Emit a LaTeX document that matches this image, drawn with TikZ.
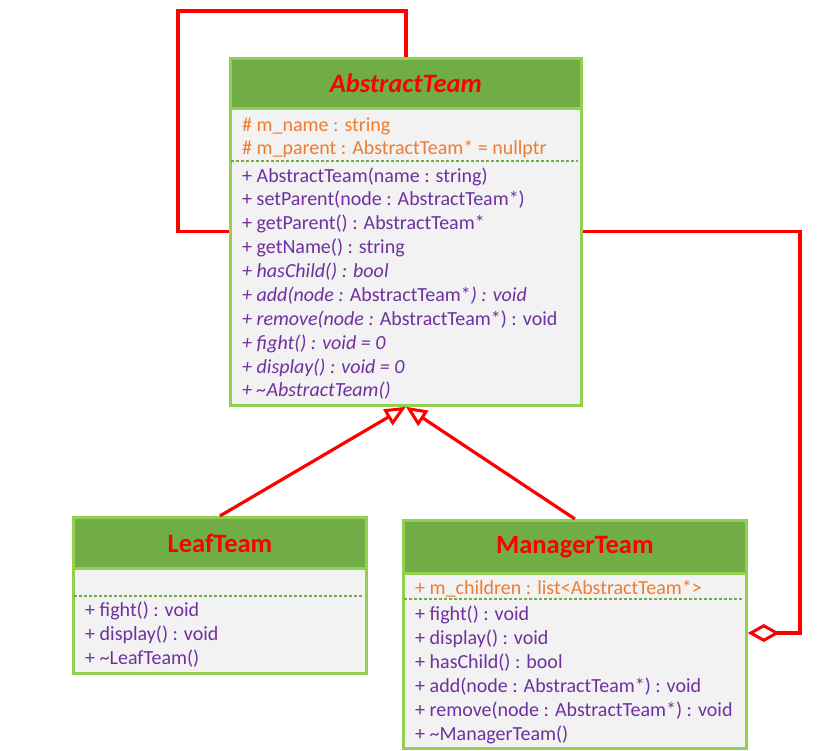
\documentclass[tikz,border=0pt]{standalone}
\usepackage{fontspec}
\setmainfont{Carlito}
\usetikzlibrary{arrows.meta}
\definecolor{lgreen}{HTML}{92D050}
\definecolor{hgreen}{HTML}{70AD47}
\definecolor{bodygray}{HTML}{F2F2F2}
\definecolor{attrorange}{HTML}{ED7D31}
\definecolor{methpurple}{HTML}{7030A0}
\definecolor{relred}{HTML}{FF0000}
\tikzset{
  classbox/.style={draw=lgreen, line width=2.8pt, fill=bodygray, anchor=north west, inner sep=0pt},
  classhead/.style={draw=lgreen, line width=2.8pt, fill=hgreen, anchor=north west, inner sep=0pt,
     text=relred, font=\fontsize{26.5}{30}\selectfont\bfseries},
  member/.style={anchor=west, inner sep=0pt, text height=14pt, text depth=4pt, yshift=-2.5pt,
     font=\fontsize{20}{24}\selectfont},
  attr/.style={member, text=attrorange},
  meth/.style={member, text=methpurple},
  divider/.style={draw=hgreen, line width=1.5pt, dash pattern=on 3pt off 2pt},
  rel/.style={draw=relred, line width=3.2pt},
}
\begin{document}
\begin{tikzpicture}[x=1pt,y=-1pt]
\useasboundingbox[fill=white] (0,0) rectangle (828,751);

% AbstractTeam
\node[classbox, minimum width=351pt, minimum height=347pt] (abs) at (229,57) {};
\node[classhead, minimum width=351pt, minimum height=50pt] (absh) at (229,57) {\textit{AbstractTeam}};
\node[attr] (a1) at (242,124) {\# m\_name : string};
\node[attr] (a2) at (242,147) {\# m\_parent : AbstractTeam* = nullptr};
\draw[divider] (231,161) -- (578,161);
\node[meth] (m1) at (242,175) {+ AbstractTeam(name : string)};
\node[meth] (m2) at (242,198) {+ setParent(node : AbstractTeam*)};
\node[meth] (m3) at (242,222) {+ getParent() : AbstractTeam*};
\node[meth] (m4) at (242,246) {+ getName() : string};
\node[meth] (m5) at (242,270) {\itshape + hasChild() : bool};
\node[meth] (m6) at (242,294) {\textit{+ add(node :} AbstractTeam*\textit{) : void}};
\node[meth] (m7) at (242,318) {\textit{+ remove(node :} AbstractTeam*) : void};
\node[meth] (m8) at (242,342) {\itshape + fight() : void = 0};
\node[meth] (m9) at (242,366) {\itshape + display() : void = 0};
\node[meth] (m10) at (242,389) {\itshape + \textasciitilde AbstractTeam()};

% LeafTeam
\node[classbox, minimum width=293pt, minimum height=156pt] (leaf) at (72,516) {};
\node[classhead, minimum width=293pt, minimum height=51pt] (leafh) at (72,516) {LeafTeam};
\draw[divider] (74,596) -- (363,596);
\node[meth] (l1) at (85,609) {+ fight() : void};
\node[meth] (l2) at (85,633) {+ display() : void};
\node[meth] (l3) at (85,657) {+ \textasciitilde LeafTeam()};

% ManagerTeam
\node[classbox, minimum width=343pt, minimum height=228pt] (mgr) at (402,519) {};
\node[classhead, minimum width=343pt, minimum height=53pt] (mgrh) at (402,519) {ManagerTeam};
\node[attr] (c1) at (415,587) {+ m\_children : list<AbstractTeam*>};
\draw[divider] (404,599) -- (743,599);
\node[meth] (n1) at (415,613) {+ fight() : void};
\node[meth] (n2) at (415,637) {+ display() : void};
\node[meth] (n3) at (415,661) {+ hasChild() : bool};
\node[meth] (n4) at (415,685) {+ add(node : AbstractTeam*) : void};
\node[meth] (n5) at (415,709) {+ remove(node : AbstractTeam*) : void};
\node[meth] (n6) at (415,733) {+ \textasciitilde ManagerTeam()};

% self association loop
\draw[rel, line join=miter] (absh.north) -- ++(0,-46) -| ([xshift=-51pt]abs.west) -- (abs.west);

% aggregation
\draw[rel, line join=miter, {Diamond[open, length=32pt, width=18pt, line width=3pt]}-] (mgr.east |- 0,633) -- (800,633) |- (abs.east);

% inheritance
\draw[rel, -{Triangle[open, length=21pt, width=18pt, line width=3pt]}] (leafh.north) -- (abs.south);
\draw[rel, -{Triangle[open, length=21pt, width=18pt, line width=3pt]}] (mgrh.north) -- (abs.south);
\end{tikzpicture}
\end{document}
